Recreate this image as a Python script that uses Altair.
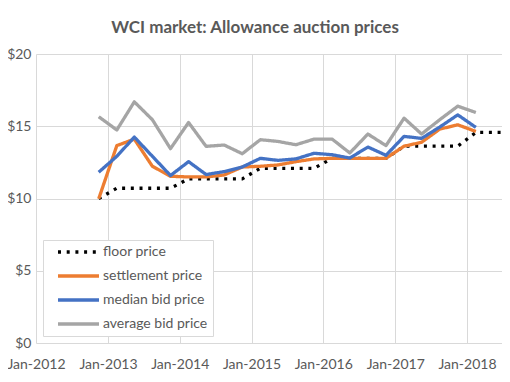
import altair as alt
import pandas as pd

# auction dates (quarterly)
dates = ["2012-11-15", "2013-02-15", "2013-05-15", "2013-08-15", "2013-11-15",
         "2014-02-15", "2014-05-15", "2014-08-15", "2014-11-15",
         "2015-02-15", "2015-05-15", "2015-08-15", "2015-11-15",
         "2016-02-15", "2016-05-15", "2016-08-15", "2016-11-15",
         "2017-02-15", "2017-05-15", "2017-08-15", "2017-11-15", "2018-02-15"]
floor_dates = dates + ["2018-05-15", "2018-08-15"]

floor_price = [10.00, 10.71, 10.71, 10.71, 10.71,
               11.36, 11.36, 11.36, 11.36,
               12.09, 12.09, 12.09, 12.09,
               12.78, 12.78, 12.78, 12.78,
               13.62, 13.62, 13.62, 13.62,
               14.57, 14.57, 14.57]
settlement_price = [9.98, 13.66, 14.11, 12.23, 11.54, 11.49, 11.49, 11.63, 12.18,
                    12.23, 12.32, 12.55, 12.74, 12.78, 12.78, 12.78, 12.78,
                    13.62, 13.89, 14.80, 15.10, 14.64]
median_bid = [11.82, 12.92, 14.25, 12.92, 11.59, 12.55, 11.66, 11.86, 12.18,
              12.78, 12.64, 12.74, 13.13, 13.03, 12.80, 13.56, 12.99,
              14.30, 14.16, 14.94, 15.79, 14.92]
average_bid = [15.66, 14.74, 16.69, 15.45, 13.45, 15.26, 13.61, 13.70, 13.10,
               14.07, 13.95, 13.72, 14.11, 14.11, 13.15, 14.46, 13.66,
               15.56, 14.46, 15.45, 16.39, 15.95]

series_names = ["floor price", "settlement price", "median bid price", "average bid price"]
series_colors = ["#000000", "#ED7D31", "#4472C4", "#A5A5A5"]
series_dash = [[3, 5.7], [1, 0], [1, 0], [1, 0]]
year_ticks = list(range(2012, 2019))
y_ticks = [0, 5, 10, 15, 20]

rows = []
for d, v in zip(floor_dates, floor_price):
    rows.append({"date": d, "price": v, "series": "floor price"})
for name, vals in zip(series_names[1:], [settlement_price, median_bid, average_bid]):
    for d, v in zip(dates, vals):
        rows.append({"date": d, "price": v, "series": name})
df = pd.DataFrame(rows)

FONT = "Lato"
TXT = "#595959"
GRID = "#D9D9D9"

legend = alt.Legend(
    title=None, orient="none", legendX=7, legendY=186,
    symbolType="stroke", symbolSize=1681, symbolStrokeWidth=3.3,
    symbolOffset=8, clipHeight=14,
    labelFont=FONT, labelFontSize=14, labelColor=TXT, labelOffset=2,
    fillColor="white", strokeColor=GRID, padding=5, rowPadding=10,
    cornerRadius=0,
)

chart = alt.Chart(df).mark_line(strokeWidth=3.3, clip=True, strokeJoin="round").encode(
    x=alt.X("date:T", title=None,
            scale=alt.Scale(type="utc",
                            domain=[alt.DateTime(year=2012, month=1, date=1, utc=True),
                                    alt.DateTime(year=2018, month=6, date=28, utc=True)]),
            axis=alt.Axis(values=[alt.DateTime(year=y, month=1, date=1, utc=True) for y in year_ticks],
                          format="%b-%Y", labelFlush=False, ticks=False, tickSize=0,
                          labelPadding=14, domain=False, grid=True)),
    y=alt.Y("price:Q", title=None,
            scale=alt.Scale(domain=[0, 20], nice=False),
            axis=alt.Axis(values=y_ticks, format="$.0f", ticks=False, tickSize=0,
                          labelPadding=5, domain=False, grid=True)),
    color=alt.Color("series:N", scale=alt.Scale(domain=series_names, range=series_colors),
                    sort=series_names, legend=legend),
    strokeDash=alt.StrokeDash("series:N", scale=alt.Scale(domain=series_names, range=series_dash),
                              sort=series_names, legend=legend),
).properties(
    width=466, height=289,
    padding={"left": 28, "top": 46, "right": 0, "bottom": 30},
    autosize=alt.AutoSizeParams(type="none"),
    title=alt.TitleParams("WCI market: Allowance auction prices", font=FONT, fontSize=17,
                          fontWeight="bold", color=TXT, anchor="middle", offset=10, dx=-14),
).configure_view(stroke=None).configure_axis(
    gridColor=GRID, gridWidth=1, labelFont=FONT, labelFontSize=14, labelColor=TXT,
)

chart.save("out.html", embed_options={"renderer": "svg", "actions": False})
